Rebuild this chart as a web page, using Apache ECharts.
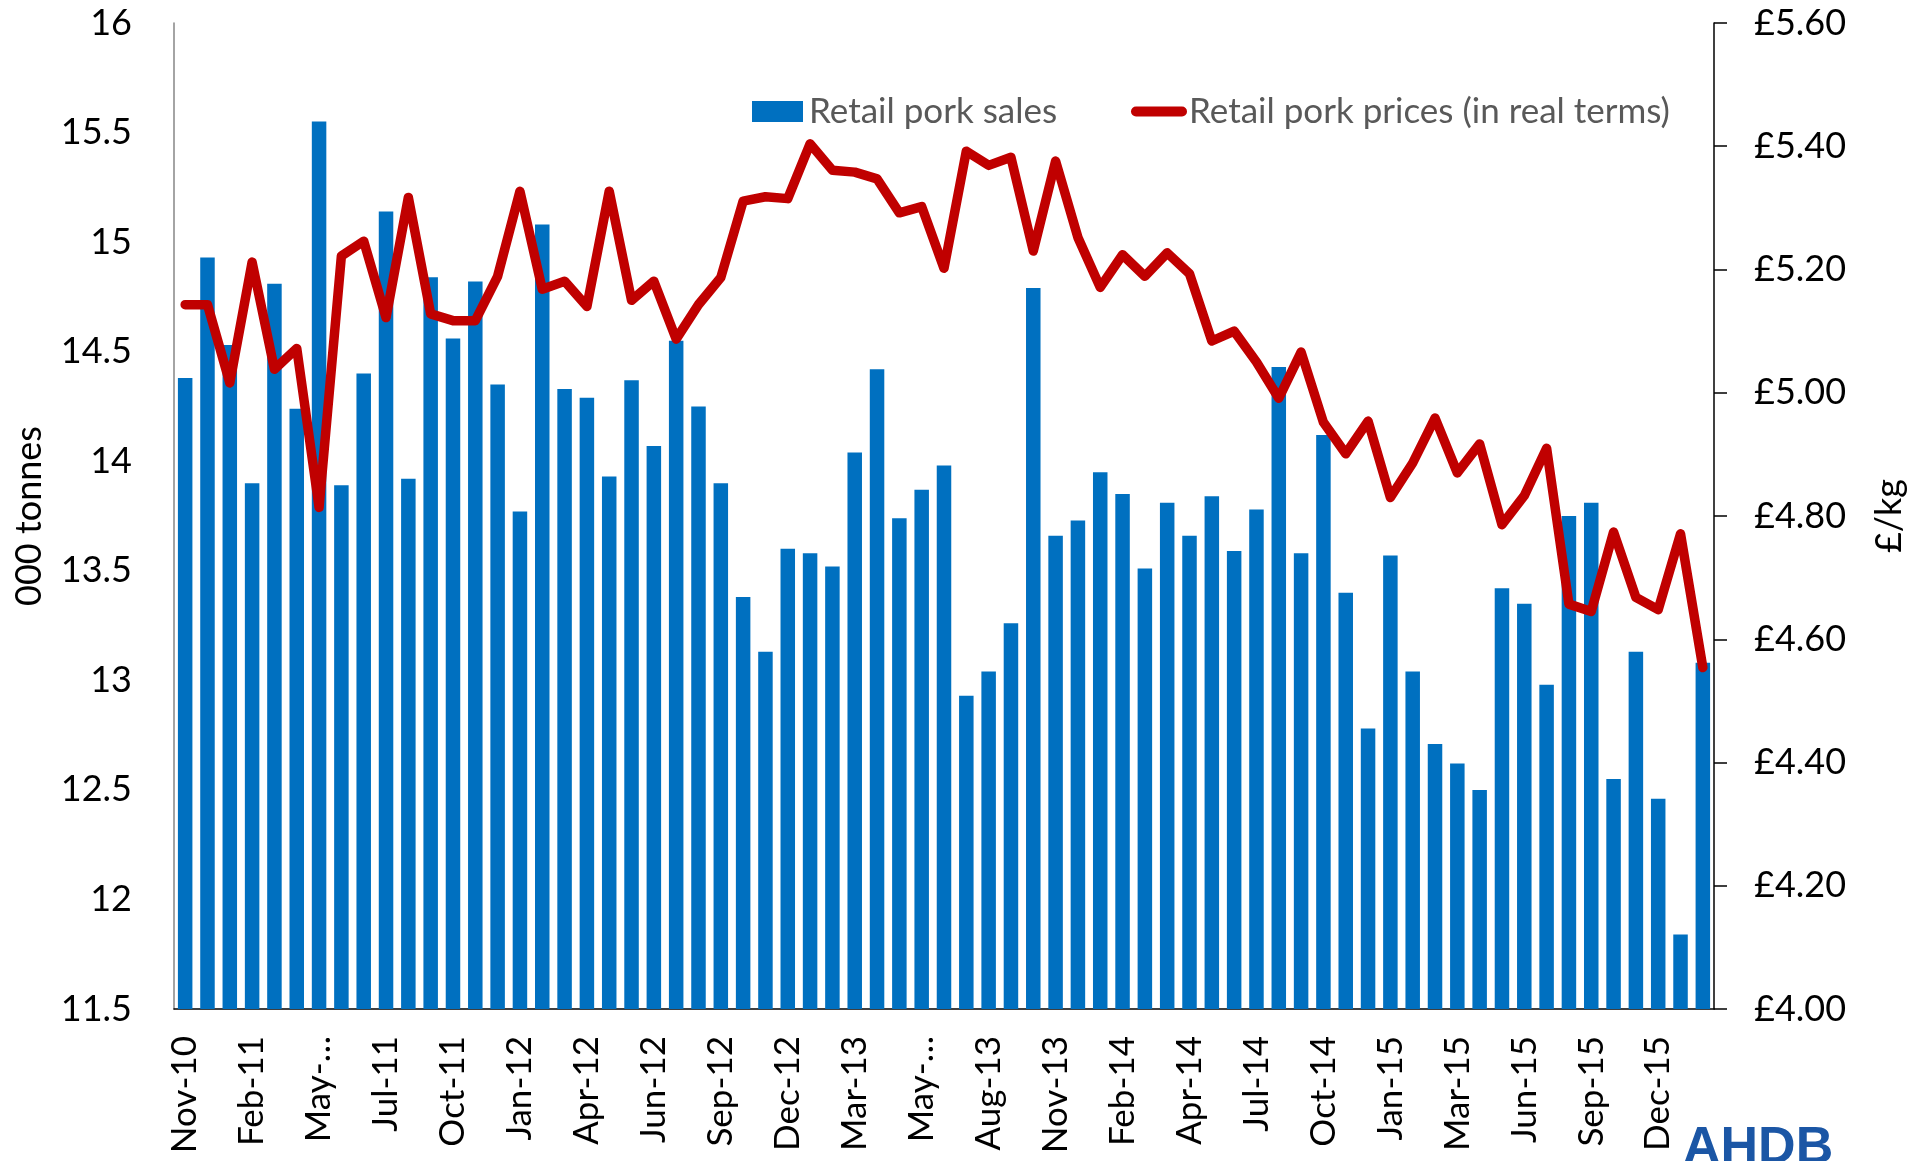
<!DOCTYPE html>
<html>
<head>
<meta charset="utf-8">
<title>Retail pork sales and prices</title>
<script src="https://cdn.jsdelivr.net/npm/echarts@6/dist/echarts.min.js"></script>
<style>
  html, body { margin: 0; padding: 0; background: #fff; }
  #chart { width: 1915px; height: 1161px; }
</style>
</head>
<body>
<div id="chart"></div>
<script>
// 4-weekly periods, Nov-10 .. Feb-16
const periods = [
  'Nov-10', 'Dec-10', 'Jan-11', 'Feb-11', 'Mar-11', 'Apr-11', 'May-11', 'Jun-11', 'Jun-11', 'Jul-11',
  'Aug-11', 'Sep-11', 'Oct-11', 'Nov-11', 'Dec-11', 'Jan-12', 'Feb-12', 'Mar-12', 'Apr-12', 'May-12',
  'May-12', 'Jun-12', 'Jul-12', 'Aug-12', 'Sep-12', 'Oct-12', 'Nov-12', 'Dec-12', 'Jan-13', 'Feb-13',
  'Mar-13', 'Apr-13', 'Apr-13', 'May-13', 'Jun-13', 'Jul-13', 'Aug-13', 'Sep-13', 'Oct-13', 'Nov-13',
  'Dec-13', 'Jan-14', 'Feb-14', 'Mar-14', 'Mar-14', 'Apr-14', 'May-14', 'Jun-14', 'Jul-14', 'Aug-14',
  'Sep-14', 'Oct-14', 'Nov-14', 'Dec-14', 'Jan-15', 'Feb-15', 'Feb-15', 'Mar-15', 'Apr-15', 'May-15',
  'Jun-15', 'Jul-15', 'Aug-15', 'Sep-15', 'Oct-15', 'Nov-15', 'Dec-15', 'Jan-16', 'Feb-16'
];

// 000 tonnes
const porkSales = [
  14.38, 14.93, 14.53, 13.90, 14.81, 14.24, 15.55, 13.89, 14.40, 15.14,
  13.92, 14.84, 14.56, 14.82, 14.35, 13.77, 15.08, 14.33, 14.29, 13.93,
  14.37, 14.07, 14.55, 14.25, 13.90, 13.38, 13.13, 13.60, 13.58, 13.52,
  14.04, 14.42, 13.74, 13.87, 13.98, 12.93, 13.04, 13.26, 14.79, 13.66,
  13.73, 13.95, 13.85, 13.51, 13.81, 13.66, 13.84, 13.59, 13.78, 14.43,
  13.58, 14.12, 13.40, 12.78, 13.57, 13.04, 12.71, 12.62, 12.50, 13.42,
  13.35, 12.98, 13.75, 13.81, 12.55, 13.13, 12.46, 11.84, 13.08
];

// £/kg, real terms
const porkPrices = [
  5.143, 5.143, 5.016, 5.212, 5.038, 5.072, 4.814, 5.222, 5.246, 5.122,
  5.317, 5.128, 5.117, 5.117, 5.189, 5.327, 5.168, 5.181, 5.140, 5.327,
  5.150, 5.181, 5.087, 5.143, 5.187, 5.311, 5.318, 5.315, 5.404, 5.361,
  5.358, 5.347, 5.292, 5.302, 5.202, 5.392, 5.369, 5.382, 5.230, 5.376,
  5.252, 5.171, 5.224, 5.189, 5.227, 5.193, 5.084, 5.100, 5.050, 4.991,
  5.066, 4.952, 4.901, 4.954, 4.830, 4.886, 4.959, 4.870, 4.917, 4.786,
  4.833, 4.910, 4.657, 4.645, 4.774, 4.668, 4.648, 4.771, 4.554
];

const font = 'Lato';
const chart = echarts.init(document.getElementById('chart'));

chart.setOption({
  animation: false,
  textStyle: { fontFamily: font },
  grid: {
    left: 174, right: 201, top: 23, bottom: 152,
    containLabel: false,
    outerBoundsMode: 'none'
  },
  legend: [
    {
      data: ['Retail pork sales'],
      left: 752, top: 94,
      padding: 0,
      itemWidth: 51, itemHeight: 21,
      icon: 'rect',
      textStyle: { fontFamily: font, fontSize: 35, color: '#595959', padding: [0, 0, 0, 1] }
    },
    {
      data: ['Retail pork prices (in real terms)'],
      left: 1131, top: 94,
      padding: 0,
      itemWidth: 56, itemHeight: 10,
      icon: 'path://M5,0 H51 A5,5 0 0 1 51,10 H5 A5,5 0 0 1 5,0 Z',
      textStyle: { fontFamily: font, fontSize: 35, color: '#595959', padding: [0, 0, 0, -3] }
    }
  ],
  xAxis: {
    type: 'category',
    data: periods,
    boundaryGap: true,
    axisLine: { lineStyle: { color: '#000', width: 1.5 } },
    axisTick: { show: false },
    axisLabel: {
      interval: 2,
      rotate: 90,
      margin: 27,
      fontFamily: font,
      fontSize: 35,
      color: '#000',
      formatter: (v) => (v.indexOf('May') === 0 ? 'May-…' : v)
    },
    splitLine: { show: false }
  },
  yAxis: [
    {
      type: 'value',
      min: 11.5, max: 16, interval: 0.5,
      name: '000 tonnes',
      nameLocation: 'middle',
      nameGap: 127,
      nameTextStyle: { fontFamily: font, fontSize: 36, color: '#000' },
      axisLine: { show: true, lineStyle: { color: '#868686', width: 1.5 } },
      axisTick: { show: false },
      axisLabel: { margin: 42, fontFamily: font, fontSize: 36, color: '#000' },
      splitLine: { show: false }
    },
    {
      type: 'value',
      position: 'right',
      min: 4, max: 5.6, interval: 0.2,
      name: '£/kg',
      nameLocation: 'middle',
      nameGap: 157,
      nameTextStyle: { fontFamily: font, fontSize: 36, color: '#000' },
      axisLine: { show: true, lineStyle: { color: '#000', width: 1.5 } },
      axisTick: { show: true, inside: false, length: 13, lineStyle: { color: '#000', width: 1.5 } },
      axisLabel: {
        margin: 40, fontFamily: font, fontSize: 36, color: '#000',
        formatter: (v) => '£' + v.toFixed(2)
      },
      splitLine: { show: false }
    }
  ],
  series: [
    {
      name: 'Retail pork sales',
      type: 'bar',
      yAxisIndex: 0,
      data: porkSales,
      barWidth: '65%',
      itemStyle: { color: '#0070C0' },
      z: 2
    },
    {
      name: 'Retail pork prices (in real terms)',
      type: 'line',
      yAxisIndex: 1,
      data: porkPrices,
      symbol: 'none',
      smooth: false,
      itemStyle: { color: '#C00000' },
      lineStyle: { color: '#C00000', width: 9.5, cap: 'round', join: 'round' },
      z: 3
    }
  ],
  graphic: [
    {
      type: 'text',
      left: 1683,
      top: 1123,
      style: {
        text: 'AHDB',
        font: 'bold 52px "Liberation Sans"',
        fill: '#1B56A5'
      }
    }
  ]
});
</script>
</body>
</html>
